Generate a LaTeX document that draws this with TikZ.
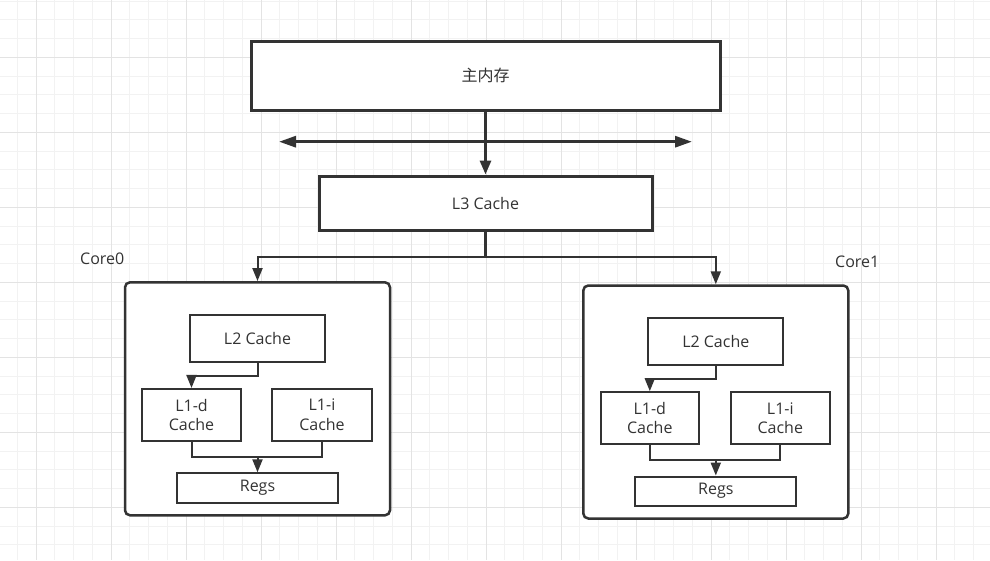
\documentclass[tikz,border=0pt]{standalone}
\usepackage{fontspec}
\setmainfont{Open Sans}
\newfontfamily\cjk{Noto Sans CJK SC}
\usetikzlibrary{arrows.meta}

\definecolor{ink}{HTML}{333333}
\definecolor{gridminor}{HTML}{F2F2F2}
\definecolor{gridmajor}{HTML}{E3E3E3}

\tikzset{
	box/.style={draw=ink, line width=2pt, fill=white, inner sep=0pt, text=ink,
		align=center, font=\fontsize{16}{19.3}\selectfont},
	bigbox/.style={box, line width=3pt},
	corebox/.style={draw=ink, line width=2.5pt, rounded corners=5pt, fill=white,
		minimum width=265, minimum height=233},
	corelabel/.style={anchor=west, inner sep=0pt, text=ink, font=\fontsize{16}{19.3}\selectfont},
	link/.style={draw=ink, line width=2pt, -{Triangle[length=13pt,width=10pt]}},
	wire/.style={draw=ink, line width=2pt},
}

\begin{document}
\begin{tikzpicture}[x=1pt, y=-1pt]
	\useasboundingbox (0,0) rectangle (990,560);
	\fill[white] (0,0) rectangle (990,560);

	% grid
	\foreach \gx in {17.25,36,...,990}
		\draw[gridminor, line width=1pt] (\gx,0) -- (\gx,560);
	\foreach \gy in {1.05,19.8,...,560}
		\draw[gridminor, line width=1pt] (0,\gy) -- (990,\gy);
	\foreach \gx in {36,111,...,990}
		\draw[gridmajor, line width=1pt] (\gx,0) -- (\gx,560);
	\foreach \gy in {57.3,132.3,...,560}
		\draw[gridmajor, line width=1pt] (0,\gy) -- (990,\gy);

	% memory, bus and L3
	\node[bigbox, minimum width=469, minimum height=69] (mem) at (485.5,75.5) {\cjk 主内存};
	\coordinate (busL) at (279,141.7);
	\coordinate (busR) at (692,141.7);
	\draw[ink, line width=3pt, {Triangle[length=17pt,width=11pt]}-{Triangle[length=17pt,width=11pt]}]
		(busL) -- (busR);
	\node[bigbox, minimum width=333, minimum height=54] (l3) at (485.5,203) {L3 Cache};
	\draw[link, line width=3pt, -{Triangle[length=14pt,width=11pt]}] (mem.south) -- (l3.north);

	% cores
	\foreach \i/\cx/\cy/\lx in {0/125/282.3/-45, 1/583.3/285.5/251.7} {
		\begin{scope}[shift={(\cx,\cy)}]
			\node[corebox] (core\i) at (132.5,116.5) {};
			\node[corelabel] (name\i) at (\lx,-24) {Core\i};
			\node[box, minimum width=135, minimum height=46.5] (ltwo\i) at (132.5,56.2) {L2 Cache};
			\node[box, minimum width=98.4, minimum height=51.7] (lone\i d) at (66.5,132.5) {L1-d\\Cache};
			\node[box, minimum width=99.4, minimum height=51.7] (lone\i i) at (197,132.5) {L1-i\\Cache};
			\node[box, minimum width=161, minimum height=29.4] (regs\i) at (132.5,205.7) {Regs};
			\coordinate (join\i) at (132.5,174.4);
			\draw[link] (ltwo\i.south) -- ++(0,13.2) -| (lone\i d.north);
			\draw[wire] (lone\i d.south) |- (join\i) -| (lone\i i.south);
			\draw[link] (join\i) -- (regs\i.north);
		\end{scope}
	}

	% L3 to cores
	\coordinate (split) at (485.5,257.3);
	\draw[wire, line width=3pt] (l3.south) -- (split);
	\draw[link] (split) -| (core0.north);
	\draw[link] (split) -| (core1.north);
\end{tikzpicture}
\end{document}
